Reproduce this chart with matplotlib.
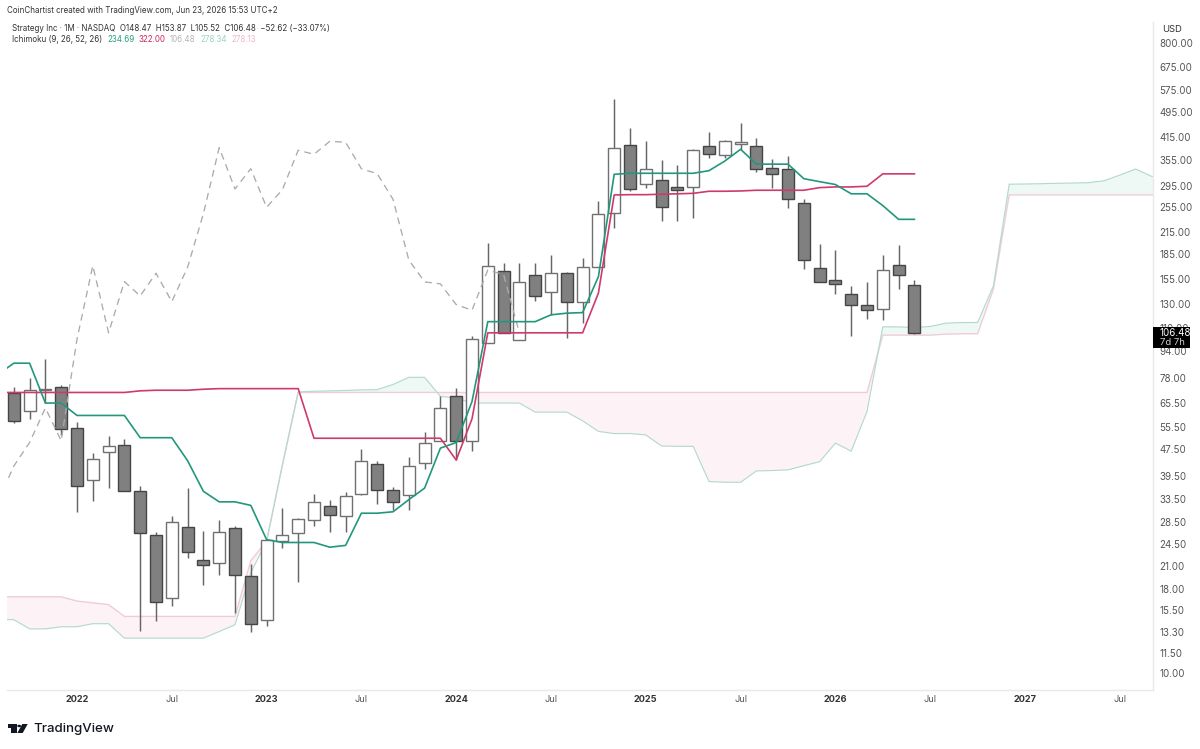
import matplotlib
matplotlib.use("Agg")
import matplotlib.pyplot as plt
import numpy as np
from matplotlib.patches import Polygon, Rectangle, Circle
from matplotlib.ticker import FixedLocator, FixedFormatter, NullLocator

plt.rcParams["font.family"] = ["Inter", "Roboto", "DejaVu Sans"]

# Monthly MSTR candles, Sep 2021 to Jun 2026
opens = [70.1, 61.7, 71.7, 73.2, 55.0, 38.3, 46.4, 48.8, 35.5, 26.1, 16.8, 27.6, 22.0, 21.5, 27.5, 19.7,
         14.5, 25.1, 26.4, 29.0, 32.0, 29.8, 34.7, 42.8, 35.7, 34.6, 43.0, 50.3, 68.9, 50.3, 99.6, 163.9,
         101.5, 159.7, 141.3, 161.3, 131.9, 168.5, 244.8, 392.7, 300.1, 308.6, 293.4, 293.4, 391.5, 367.9,
         395.5, 390.0, 334.6, 332.4, 263.5, 167.7, 154.3, 139.4, 128.9, 125.9, 170.5, 148.47]
highs = [73.2, 77.7, 88.9, 74.2, 57.5, 46.1, 52.1, 50.9, 36.8, 26.7, 29.9, 36.2, 26.8, 28.9, 27.8, 21.3,
         25.3, 31.5, 29.5, 34.7, 33.3, 35.2, 47.4, 43.7, 36.5, 44.9, 53.4, 68.8, 72.5, 103.9, 199.5, 173.6,
         173.6, 173.6, 183.6, 163.1, 179.1, 267.2, 541.9, 444.0, 404.7, 354.0, 343.3, 382.0, 430.0, 406.6,
         457.8, 413.3, 357.0, 364.5, 269.8, 197.7, 190.1, 147.7, 152.2, 183.2, 196.8, 153.87]
lows = [56.9, 58.4, 65.5, 52.5, 30.7, 33.2, 36.3, 35.4, 13.4, 14.4, 16.0, 22.3, 18.4, 19.8, 15.2, 13.3,
        13.9, 23.8, 18.8, 27.9, 26.7, 26.7, 34.6, 32.3, 31.1, 31.1, 41.3, 50.2, 44.0, 46.9, 99.5, 106.2,
        101.2, 132.8, 120.8, 102.7, 114.0, 168.4, 221.5, 286.0, 292.6, 232.1, 232.1, 236.5, 359.0, 359.0,
        380.2, 326.9, 292.6, 254.0, 166.1, 151.7, 139.4, 104.4, 117.6, 116.6, 144.4, 105.52]
closes = [57.8, 71.4, 72.0, 54.6, 36.8, 44.3, 48.5, 35.5, 26.5, 16.4, 28.5, 23.2, 21.2, 26.7, 19.8, 14.1,
          25.2, 26.2, 29.1, 32.9, 30.1, 34.3, 43.7, 35.8, 32.9, 42.2, 49.7, 63.2, 50.3, 102.0, 170.0, 106.6,
          152.2, 137.8, 161.3, 132.4, 168.2, 244.1, 386.3, 289.9, 333.7, 255.2, 288.5, 379.4, 369.0, 403.8,
          401.0, 333.7, 322.4, 269.8, 176.9, 151.9, 149.8, 129.7, 124.7, 165.0, 159.7, 106.48]

# Conversion and base lines start one month before the first candle
tenkan = [79.8, 86.3, 86.3, 65.4, 65.4, 60.0, 60.0, 60.0, 60.0, 51.4, 51.4, 51.4, 43.8, 35.4, 32.9, 32.9,
          32.1, 25.3, 24.8, 24.8, 24.8, 24.0, 24.3, 30.4, 30.4, 30.7, 33.4, 36.2, 47.8, 49.7, 66.1, 115.2,
          115.2, 115.2, 115.2, 120.8, 122.2, 122.7, 157.5, 321.0, 323.3, 323.3, 323.3, 323.3, 323.3, 329.2,
          352.0, 382.0, 344.5, 344.5, 344.5, 311.4, 305.0, 299.0, 280.3, 280.3, 258.2, 234.69, 234.69]
kijun = [70.4, 70.4, 70.4, 70.4, 70.4, 70.4, 70.4, 70.4, 70.4, 71.2, 71.5, 71.5, 71.5, 72.0, 72.3, 72.3,
         72.3, 72.3, 72.3, 72.3, 51.2, 51.2, 51.2, 51.2, 51.2, 51.2, 51.2, 51.2, 51.2, 44.0, 58.6, 106.6,
         106.6, 106.6, 106.6, 106.6, 106.6, 106.6, 140.5, 278.1, 278.6, 278.6, 279.5, 280.3, 281.2, 285.3,
         285.3, 285.9, 287.3, 287.3, 287.3, 287.3, 292.6, 294.0, 294.0, 295.4, 322.0, 322.0, 322.0]

# Leading spans, projected forward past the last candle
span_a = [14.5, 14.5, 13.6, 13.6, 13.8, 13.8, 14.1, 14.1, 12.75, 12.75, 12.75, 12.75, 12.75, 12.75, 13.35,
          14.0, 20.1, 25.0, 42.5, 70.7, 71.0, 71.2, 71.4, 71.7, 71.8, 74.4, 78.2, 78.2, 68.5, 67.7, 65.4,
          65.4, 65.4, 65.4, 61.4, 61.4, 61.4, 57.8, 53.7, 52.9, 52.9, 52.4, 48.5, 48.4, 48.4, 37.9, 37.7,
          37.7, 40.8, 40.9, 41.1, 42.3, 43.5, 49.5, 46.8, 61.7, 111.1, 111.1, 110.6, 111.4, 114.0, 114.5,
          114.5, 147.7, 299.6, 300.1, 300.7, 301.5, 302.1, 302.8, 306.8, 319.3, 333.0, 316.6, 314.4]
span_b = [17.0, 17.0, 17.0, 17.0, 17.0, 16.5, 16.3, 16.1, 14.83, 14.83, 14.83, 14.83, 14.83, 14.83, 14.83,
          14.83, 21.85, 25.0, 42.5, 70.4, 70.4, 70.4, 70.4, 70.4, 70.4, 70.4, 70.4, 70.4, 70.4, 70.4, 70.4,
          70.4, 70.4, 70.4, 70.4, 70.4, 70.4, 70.4, 70.4, 70.4, 70.4, 70.4, 70.4, 70.4, 70.4, 70.4, 70.4,
          70.4, 70.4, 70.4, 70.4, 70.4, 70.4, 70.4, 70.4, 70.4, 104.9, 104.9, 104.9, 104.9, 105.6, 105.9,
          105.9, 144.4, 278.1, 278.1, 278.1, 278.1, 278.1, 278.1, 278.1, 278.1, 278.1, 278.1, 278.1]

price_ticks = [800, 675, 575, 495, 415, 355, 295, 255, 215, 185, 155, 130, 110, 94, 78, 65.5, 55.5, 47.5,
               39.5, 33.5, 28.5, 24.5, 21, 18, 15.5, 13.3, 11.5, 10]
month_ticks = [4, 10, 16, 22, 28, 34, 40, 46, 52, 58, 64, 70]
month_labels = ["2022", "Jul", "2023", "Jul", "2024", "Jul", "2025", "Jul", "2026", "Jul", "2027", "Jul"]

LAG = 25  # bars the lagging span is shifted back and the cloud pushed ahead

W, H = 1200, 749
fig = plt.figure(figsize=(W / 100, H / 100), dpi=100, facecolor="white")
ax = fig.add_axes([7 / W, (H - 690) / H, 1146 / W, 668 / H])


def fx(px):
    return px / W


def fy(py):
    return 1 - py / H


opens_a, highs_a, lows_a, closes_a = map(np.array, (opens, highs, lows, closes))
bars = np.arange(len(opens))

# Cloud
cloud_x = np.arange(len(span_a)) - 1
a, b = np.array(span_a), np.array(span_b)
ax.fill_between(cloud_x, a, b, where=a >= b, interpolate=True, color="#eef9f6", lw=0, zorder=1)
ax.fill_between(cloud_x, a, b, where=a < b, interpolate=True, color="#fdf3f6", lw=0, zorder=1)
ax.plot(cloud_x, span_b, color="#f0ccd7", lw=1.0, zorder=2)
ax.plot(cloud_x, span_a, color="#b4dad0", lw=0.85, zorder=2)

# Candles
up = closes_a >= opens_a
body_low = np.minimum(opens_a, closes_a)
body_high = np.maximum(opens_a, closes_a)
ax.vlines(bars, lows_a, highs_a, color="#666666", lw=1.05, zorder=3)
ax.bar(bars, body_high - body_low, bottom=body_low, width=0.77,
       color=["white" if u else "#808080" for u in up],
       edgecolor=["#707070" if u else "#454545" for u in up], linewidth=1.0, zorder=4)

# Ichimoku lines
ax.plot(np.arange(len(kijun)) - 1, kijun, color="#cf3a6c", lw=1.2, zorder=6, solid_joinstyle="round")
ax.plot(np.arange(len(tenkan)) - 1, tenkan, color="#21977c", lw=1.2, zorder=7, solid_joinstyle="round")
ax.plot(bars[LAG - 1:] - LAG, closes_a[LAG - 1:], color="#ababab", lw=0.95, zorder=5,
        linestyle=(0, (5.2, 3.8)))

# Axes and scales
ax.set_yscale("log")
ax.set_ylim(8.89, 925.8)
ax.set_xlim(-0.43, 72.1)
ax.yaxis.set_major_locator(FixedLocator(price_ticks))
ax.yaxis.set_major_formatter(FixedFormatter([f"{t:.2f}" for t in price_ticks]))
ax.yaxis.set_minor_locator(NullLocator())
ax.yaxis.tick_right()
ax.tick_params(axis="y", length=0, pad=4.6, labelsize=7.0, labelcolor="#555555")
ax.set_xticks(month_ticks, month_labels)
ax.tick_params(axis="x", length=0, pad=3.6, labelsize=6.6, labelcolor="#555555")
for lab, txt in zip(ax.get_xticklabels(), month_labels):
    if txt != "Jul":
        lab.set_fontweight("bold")
        lab.set_color("#333333")
for side in ("top", "left"):
    ax.spines[side].set_visible(False)
for side in ("right", "bottom"):
    ax.spines[side].set_color("#e9e9e9")
    ax.spines[side].set_linewidth(1.0)

# Last price tag on the scale
fig.patches.append(Rectangle((fx(1153), fy(348)), 37 / W, 21 / H, transform=fig.transFigure,
                             facecolor="black", edgecolor="none", zorder=10))
fig.text(fx(1160), fy(333), "106.48", color="white", fontsize=7.0, va="center", zorder=11)
fig.text(fx(1160), fy(342.5), "7d 7h", color="#cfcfcf", fontsize=6.8, va="center", zorder=11)
fig.text(fx(1162), fy(29), "USD", color="#333333", fontsize=6.8, va="center")

# Header lines
fig.text(fx(7), fy(10.5), "CoinChartist created with TradingView.com, Jun 23, 2026 15:53 UTC+2",
         color="#333333", fontsize=5.75, va="center")
fig.text(fx(12), fy(28.5), "Strategy Inc · 1M · NASDAQ  O148.47  H153.87  L105.52  C106.48  \u221252.62 (\u221233.07%)",
         color="#333333", fontsize=5.75, va="center")
fig.text(fx(12), fy(39.5), "Ichimoku (9, 26, 52, 26)", color="#333333", fontsize=5.75, va="center")
for px, val, col in [(107, "234.69", "#2a9d80"), (138.5, "322.00", "#c92a5f"), (169.5, "106.48", "#b5b5b5"),
                     (200, "278.34", "#9bd3c4"), (231, "278.13", "#f0b5c7")]:
    fig.text(fx(px), fy(39.5), val, color=col, fontsize=5.75, va="center")

# TradingView wordmark
ink = "#131722"
for pts in ([(8, 724), (16.7, 724), (16.7, 733), (11.3, 733), (11.3, 727.5), (8, 727.5)],
            [(22.3, 724), (27.7, 724), (22.7, 733), (17.3, 733)]):
    fig.patches.append(Polygon([(fx(x), fy(y)) for x, y in pts], closed=True, transform=fig.transFigure,
                               facecolor=ink, edgecolor="none"))
dot = Circle((fx(19.2), fy(726)), 2.0 / W, transform=fig.transFigure, facecolor=ink, edgecolor="none")
fig.patches.append(dot)
fig.text(fx(33), fy(729), "TradingView", color=ink, fontsize=9.6, fontweight="medium", va="center")

fig.savefig("out.png", dpi=100, facecolor="white")
